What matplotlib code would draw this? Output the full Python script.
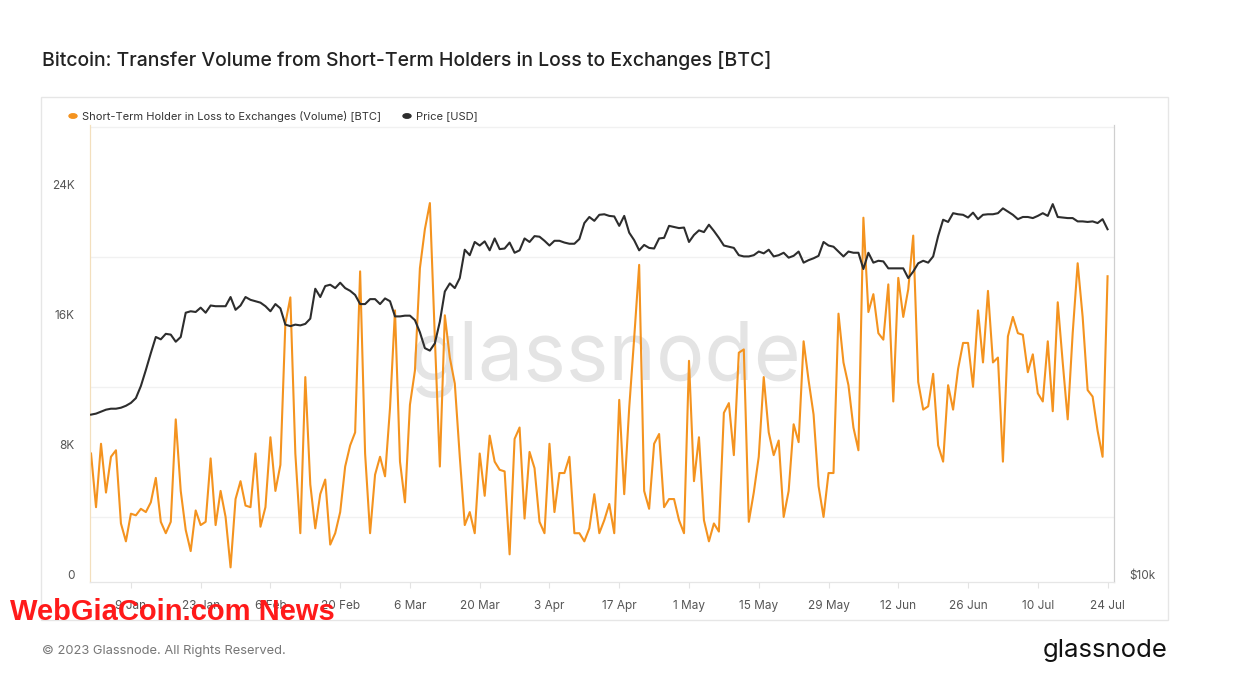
import numpy as np
import pandas as pd
import matplotlib
matplotlib.use("Agg")
import matplotlib.pyplot as plt
import matplotlib.dates as mdates
from matplotlib.patches import Rectangle
from matplotlib.ticker import FixedLocator, NullFormatter

plt.rcParams['font.family'] = ['Inter', 'DejaVu Sans']

# daily values, 1 Jan 2023 .. 24 Jul 2023
dates = pd.date_range("2023-01-01", periods=205, freq="D")

# Short-Term Holder in Loss to Exchanges (Volume) [BTC], thousands
stl_volume_k = [
    7.9, 4.6, 8.5, 5.5, 7.7, 8.1, 3.6, 2.5, 4.2, 4.1,
    4.5, 4.3, 4.9, 6.4, 3.7, 3.0, 3.7, 10.0, 5.6, 3.2,
    1.9, 4.4, 3.5, 3.7, 7.6, 3.5, 5.6, 4.0, 0.9, 5.1,
    6.2, 4.7, 4.6, 7.9, 3.4, 4.6, 8.9, 5.6, 7.2, 15.9,
    17.5, 7.9, 3.0, 12.6, 6.0, 3.3, 5.4, 6.3, 2.3, 3.0,
    4.3, 7.1, 8.4, 9.2, 19.1, 7.9, 3.0, 6.6, 7.7, 6.5,
    10.7, 16.7, 7.4, 4.9, 10.9, 13.0, 19.3, 21.7, 23.3, 15.0,
    7.1, 16.4, 13.8, 12.2, 7.7, 3.5, 4.3, 3.0, 7.9, 5.3,
    9.0, 7.4, 6.9, 6.8, 1.7, 8.8, 9.5, 3.9, 8.0, 7.0,
    3.7, 3.0, 8.5, 4.3, 6.7, 6.7, 7.7, 3.0, 3.0, 2.5,
    3.3, 5.4, 3.0, 3.8, 4.8, 3.0, 11.2, 5.4, 10.7, 15.0,
    19.5, 5.6, 4.5, 8.5, 9.1, 4.6, 5.1, 5.1, 3.8, 3.0,
    13.6, 6.2, 8.9, 3.8, 2.5, 3.6, 3.1, 10.4, 11.0, 7.8,
    14.1, 14.3, 3.7, 5.5, 7.7, 12.6, 9.2, 7.8, 8.7, 4.0,
    5.6, 9.7, 8.6, 14.8, 12.4, 10.3, 5.9, 4.0, 6.7, 6.7,
    16.5, 13.5, 12.1, 9.5, 8.1, 22.4, 16.6, 17.7, 15.3, 14.9,
    18.3, 11.1, 18.7, 16.3, 18.0, 21.3, 12.3, 10.6, 10.8, 12.8,
    8.4, 7.4, 12.1, 10.6, 13.1, 14.7, 14.7, 12.0, 16.7, 13.5,
    17.9, 13.5, 13.8, 7.4, 15.1, 16.3, 15.3, 15.2, 12.9, 14.0,
    11.6, 11.1, 14.8, 10.5, 17.2, 13.5, 10.0, 15.3, 19.6, 16.3,
    11.8, 11.4, 9.3, 7.7, 18.8,
]

# Price [USD], thousands
price_k = [
    16.6, 16.65, 16.75, 16.85, 16.9, 16.9, 16.95, 17.05, 17.2, 17.45,
    18.1, 19.0, 20.0, 21.0, 20.85, 21.2, 21.15, 20.7, 21.0, 22.6,
    22.7, 22.65, 22.95, 22.6, 23.1, 23.05, 23.05, 23.05, 23.7, 22.8,
    23.1, 23.7, 23.5, 23.4, 23.3, 23.05, 22.7, 23.2, 22.9, 21.8,
    21.7, 21.8, 21.75, 21.85, 22.2, 24.3, 23.7, 24.5, 24.6, 24.35,
    24.75, 24.35, 24.15, 23.85, 23.2, 23.2, 23.55, 23.55, 23.2, 23.6,
    23.4, 22.35, 22.35, 22.4, 22.4, 22.1, 21.3, 20.3, 20.15, 20.6,
    22.0, 24.1, 24.7, 24.35, 25.1, 27.35, 26.9, 28.0, 27.7, 28.05,
    27.3, 28.3, 27.4, 27.45, 27.95, 27.1, 27.3, 28.3, 28.0, 28.5,
    28.45, 28.1, 27.7, 28.1, 28.1, 27.95, 27.85, 27.85, 28.25, 29.65,
    30.2, 29.85, 30.4, 30.45, 30.3, 30.25, 29.4, 30.3, 28.8, 28.15,
    27.3, 27.75, 27.5, 27.45, 28.3, 28.35, 29.4, 29.3, 29.2, 29.25,
    28.0, 28.6, 29.0, 28.85, 29.5, 28.95, 28.35, 27.7, 27.6, 27.5,
    26.9, 26.8, 26.8, 26.9, 27.2, 27.05, 27.35, 26.8, 26.9, 27.1,
    26.7, 26.85, 27.2, 26.3, 26.5, 26.65, 26.85, 28.0, 27.7, 27.6,
    27.2, 26.8, 27.2, 27.1, 27.1, 25.8, 27.1, 26.3, 26.45, 26.4,
    25.85, 25.85, 25.85, 25.85, 25.1, 25.6, 26.25, 26.45, 26.3, 26.8,
    28.5, 29.95, 29.75, 30.55, 30.45, 30.4, 30.15, 30.6, 30.0, 30.4,
    30.45, 30.45, 30.55, 31.0, 30.7, 30.4, 30.0, 30.2, 30.2, 30.1,
    30.3, 30.55, 30.3, 31.4, 30.2, 30.15, 30.1, 30.1, 29.8, 29.8,
    29.75, 29.8, 29.65, 30.0, 29.1,
]

left_ticks = [0, 8000, 16000, 24000]
left_labels = ["0", "8K", "16K", "24K"]

title = "Bitcoin: Transfer Volume from Short-Term Holders in Loss to Exchanges [BTC]"
vol_label = "Short-Term Holder in Loss to Exchanges (Volume) [BTC]"
price_label = "Price [USD]"

orange = "#f4931f"
dark = "#2d2d2d"

W, H = 1246, 694
fig = plt.figure(figsize=(W / 100, H / 100), dpi=100)
fig.patch.set_facecolor("white")

# card frame
fig.patches.append(Rectangle((41 / W, 1 - 620 / H), (1168 - 41) / W, (620 - 97) / H,
                             transform=fig.transFigure, fill=False,
                             edgecolor="#e6e6e6", linewidth=1))

ax = fig.add_axes([90 / W, 1 - 582 / H, (1114 - 90) / W, (582 - 125) / H])
ax2 = ax.twinx()

vol = np.array(stl_volume_k) * 1000
price = np.array(price_k) * 1000

ax.plot(dates, vol, color=orange, linewidth=1.5, zorder=3)
ax2.plot(dates, price, color=dark, linewidth=1.5, zorder=3)

ax.set_ylim(0, 28100)
ax2.set_yscale("log")
ax2.set_ylim(10000, 39900)

x0 = dates[0] - pd.Timedelta(hours=5)
x1 = dates[-1] + pd.Timedelta(hours=31)
ax.set_xlim(x0, x1)

# grid every 4K
ax.yaxis.set_minor_locator(FixedLocator(np.arange(4000, 28001, 4000)))
ax.yaxis.set_minor_formatter(NullFormatter())
ax.grid(which="minor", axis="y", color="#f1f1f1", linewidth=1)
ax.set_axisbelow(True)
ax.tick_params(axis="y", which="minor", length=0)

ax.set_yticks(left_ticks)
ax.set_yticklabels(left_labels)
ax.tick_params(axis="y", which="major", length=0, pad=11, labelsize=8.5, labelcolor="#555555")
for t in ax.get_yticklabels():
    t.set_verticalalignment("bottom")

ax2.yaxis.set_minor_locator(FixedLocator([]))
ax2.set_yticks([10000])
ax2.set_yticklabels(["$10k"])
ax2.tick_params(axis="y", which="both", length=0, pad=11, labelsize=8.5, labelcolor="#555555")
for t in ax2.get_yticklabels():
    t.set_verticalalignment("bottom")

# x ticks every two weeks
ticks = pd.date_range("2023-01-09", "2023-07-24", freq="14D")
ax.set_xticks(ticks)
ax.set_xticklabels([f"{d.day} {d.strftime('%b')}" for d in ticks])
ax.tick_params(axis="x", length=4, color="#e3e3e3", pad=9, labelsize=8.5, labelcolor="#555555")

for a in (ax, ax2):
    a.spines["top"].set_visible(False)
    a.spines["left"].set_color("#f3dfbd")
    a.spines["right"].set_color("#cfcfcf")
    a.spines["bottom"].set_color("#e6e6e6")
ax2.patch.set_visible(False)

# watermark
ax.text(606 / W, 1 - 380 / H, "glassnode", transform=fig.transFigure,
        ha="center", va="baseline", fontsize=58, color="#e4e4e4", zorder=1)

# title and legend
fig.text(42 / W, 1 - 60 / H, title, ha="left", va="center",
         fontsize=14, fontweight="medium", color="#222222")
fig.patches.append(plt.Circle((73 / W, 1 - 116 / H), 4 / W, transform=fig.transFigure,
                              color=orange))
fig.text(82 / W, 1 - 116 / H, vol_label, ha="left", va="center", fontsize=8, color="#333333")
fig.patches.append(plt.Circle((407 / W, 1 - 116 / H), 4 / W, transform=fig.transFigure,
                              color=dark))
fig.text(416 / W, 1 - 116 / H, price_label, ha="left", va="center", fontsize=8, color="#333333")

# footer
fig.text(42 / W, 1 - 651 / H, "\u00a9 2023 Glassnode. All Rights Reserved.", ha="left",
         va="center", fontsize=9.3, color="#777777")
fig.text(1168 / W, 1 - 650 / H, "glassnode", ha="right", va="center",
         fontsize=18.5, color="#111111")

# overlay caption from source page
fig.text(10 / W, 1 - 612 / H, "WebGiaCoin.com News", ha="left", va="center",
         fontsize=21, fontweight="bold", color="#ff1a1a",
         family=["Liberation Sans Narrow", "Liberation Sans", "DejaVu Sans"])

fig.savefig("out.png", dpi=100)
